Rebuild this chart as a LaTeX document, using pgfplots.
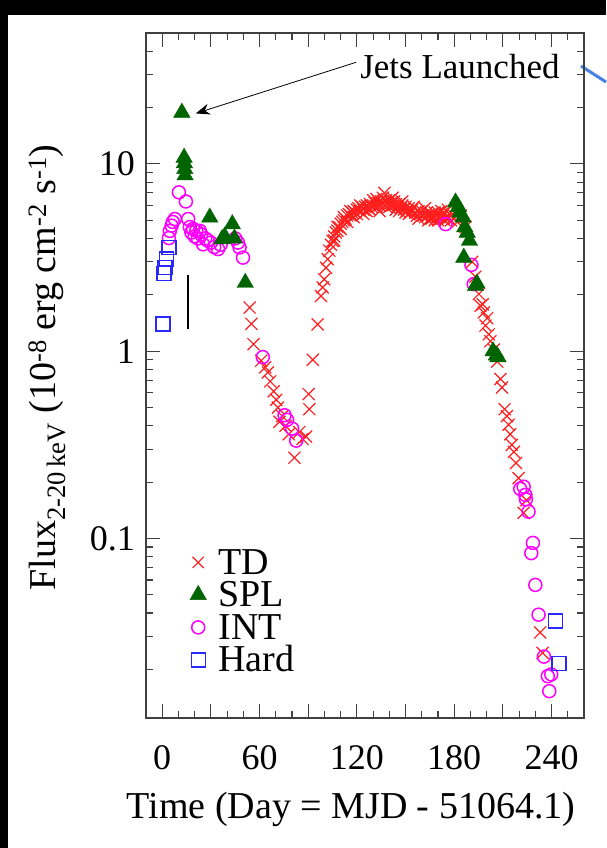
\documentclass[border=0pt]{standalone}
\usepackage{fontspec}
\setmainfont{Liberation Serif}
\usepackage{pgfplots}
\pgfplotsset{compat=1.18}
\usetikzlibrary{arrows.meta}
\definecolor{tdred}{RGB}{255,30,30}
\definecolor{splgreen}{RGB}{0,100,0}
\definecolor{intmag}{RGB}{255,0,255}
\definecolor{hardblue}{RGB}{40,40,255}
\definecolor{lineblue}{RGB}{70,130,230}
\begin{document}
\begin{tikzpicture}
\useasboundingbox (0pt,0pt) rectangle (606pt,848pt);
\fill[white] (0pt,0pt) rectangle (606pt,848pt);
\fill[black] (0pt,833pt) rectangle (606pt,848pt);
\fill[black] (0pt,0pt) rectangle (8pt,848pt);
\draw[lineblue, line width=3pt] (581pt,782pt) -- (606pt,766pt);
\begin{axis}[
  at={(146pt,130pt)}, anchor=south west,
  scale only axis, width=438pt, height=685pt,
  xmin=-10, xmax=260, ymode=log, ymin=0.011, ymax=50,
  xtick={0,30,...,240}, xticklabels={0,{},60,{},120,{},180,{},240},
  minor xtick={-10,0,...,260},
  ytick={0.01,0.1,1,10,100},
  minor ytick={0.02,0.03,0.04,0.05,0.06,0.07,0.08,0.09,0.2,0.3,0.4,0.5,0.6,0.7,0.8,0.9,2,3,4,5,6,7,8,9,20,30,40},
  log ticks with fixed point,
  /pgf/number format/assume math mode=true,
  tick align=inside,
  major tick length=14pt, minor tick length=7pt,
  every tick/.style={black!75, line width=1.1pt},
  axis line style={line width=1.5pt, black!75},
  ticklabel style={font=\fontsize{36}{36}\selectfont, inner sep=0pt},
  xticklabel style={yshift=-27pt},
  yticklabel style={xshift=-11pt},
  xlabel={Time (Day = MJD - 51064.1)},
  xlabel style={at={(axis description cs:0.468,-0.146)}, anchor=base, font=\fontsize{38}{38}\selectfont},
  ylabel={Flux\textsubscript{2-20\,keV} (10\textsuperscript{-8} erg cm\textsuperscript{-2} s\textsuperscript{-1})},
  ylabel style={at={(axis description cs:-0.2055,0.5117)}, anchor=base, font=\fontsize{38}{38}\selectfont},
  legend cell align=left,
  legend style={draw=none, fill=none, at={(axis description cs:0.1,0.245)}, anchor=north west,
    font=\fontsize{38}{38}\selectfont, row sep=8.5pt, inner sep=0pt,
    nodes={inner sep=0pt, text height=24pt, text depth=0pt},
    /tikz/every odd column/.style={column sep=12pt}},
]
% TD
\addplot[only marks, mark=x, mark size=8.5pt, tdred, line width=1.2pt, forget plot] coordinates {
(53.9,1.71)(55.0,1.40)(56.3,1.09)(61.0,0.89)(63.5,0.82)(65.1,0.77)(66.6,0.69)(68.7,0.61)
(70.3,0.55)(71.3,0.50)(72.3,0.42)(74.0,0.45)(76.0,0.40)(78.0,0.36)(81.5,0.27)(84.5,0.37)
(86.5,0.34)(88.7,0.35)(90.3,0.59)(90.7,0.49)(92.8,0.90)(95.8,1.39)(97.9,1.97)(98.9,2.19)
(99.9,2.42)(101,2.79)(102,3.10)(103,3.44)(104,3.7)(105,3.88)(106,4.1)(107,4.3)(108,4.4)
(109,4.6)(110,4.8)(111,4.9)(112,5.0)(113,5.1)(114,5.3)(115,5.4)(116,5.3)(117,5.5)(118,5.6)
(119,5.5)(120,5.7)(121,5.8)(122,5.6)(123,5.9)(124,5.7)(125,5.9)(126,6.0)(127,5.8)(128,6.1)
(129,5.9)(130,6.0)(131,6.2)(132,5.9)(133,6.2)(134,6.0)(135,6.3)(136,6.1)(137,7.0)(138,6.4)
(139,6.2)(140,6.4)(141,6.2)(142,6.0)(143,6.3)(144,6.1)(145,5.9)(146,6.1)(147,5.8)(148,6.0)
(149,5.7)(150,5.9)(151,5.6)(152,5.8)(153,5.5)(154,5.7)(156,5.5)(157,5.3)(158,5.6)(159,5.4)
(160,5.6)(161,5.3)(162,5.2)(163,5.5)(164,5.3)(165,5.1)(166,5.4)(167,5.2)(168,5.0)(169,5.3)
(170,5.5)(171,5.2)(172,5.6)(173,5.3)(174,5.0)(175,5.2)(176,5.1)(177,5.4)(178,5.0)
(106,3.9)(108,4.6)(110,4.5)(112,5.2)(114,4.9)(116,5.6)(118,5.2)(120,5.4)(122,6.0)(124,5.4)
(126,5.6)(128,5.7)(130,6.4)(132,6.5)(134,5.6)(136,6.6)(138,5.9)(140,5.9)(142,6.6)(144,5.7)
(146,5.6)(148,6.3)(150,5.5)(152,5.4)(155,5.9)(158,5.1)(160,5.3)(162,5.8)(164,5.0)(166,5.1)
(168,5.5)(170,5.0)(172,5.2)(174,5.5)(176,5.7)(178,5.3)(180,5.1)(182,4.9)(184,5.3)(187,4.6)
(191,3.0)(193,2.5)
(195.2,2.02)(196.2,1.75)(197.6,1.78)(198.2,1.61)(199.3,1.37)(200.3,1.50)(201.3,1.23)
(202.3,1.13)(204.5,1.02)(206.5,0.88)(208.5,0.71)(209.5,0.64)(211.1,0.49)(212.5,0.45)
(213.5,0.405)(214.5,0.36)(215.5,0.316)(216.8,0.29)(218.1,0.253)(219.7,0.21)(222.8,0.137)
(224.5,0.16)(233.0,0.0315)(234.5,0.0245)
};
% INT
\addplot[only marks, mark=o, mark size=6.5pt, intmag, line width=1.5pt, forget plot] coordinates {
(4.1,4.02)(4.7,4.39)(5.8,4.68)(6.5,4.9)(7.8,5.08)(10.3,7.05)(14.6,6.30)(16.0,5.08)(17.0,4.6)
(18.0,4.3)(19.0,4.5)(20.0,4.1)(21.0,4.4)(22.0,4.0)(23.2,4.39)(24.0,4.2)(25.2,3.72)(26.5,4.0)
(28.0,3.9)(30.0,3.8)(32.0,3.6)(34.4,3.51)(36.0,3.7)(45.0,4.0)(46.7,3.80)(47.7,3.58)(49.8,3.16)
(62.0,0.93)(75.4,0.455)(77.0,0.43)(80.1,0.386)(82.6,0.333)
(174.7,4.77)(190.6,2.89)(192.0,2.28)
(220.7,0.184)(222.8,0.189)(223.8,0.171)(224.2,0.162)(225.8,0.139)(227.5,0.0835)(228.5,0.0947)
(230.0,0.0565)(232.0,0.0392)(235.3,0.0234)(237.7,0.0184)(238.6,0.0153)(239.8,0.0188)
};
% SPL
\addplot[only marks, mark=triangle*, mark size=9.5pt, splgreen, forget plot] coordinates {
(12.1,18.8)(13.5,10.8)(13.7,10.1)(13.9,9.4)(14.1,8.7)(29.3,5.18)(36.9,3.97)(38.5,4.1)
(43.2,4.77)(44.5,4.0)(51.2,2.32)
(180.8,6.23)(182.5,5.9)(183.5,5.5)(185.5,5.18)(186.5,4.6)(188.0,4.30)(189.4,3.89)(185.9,3.16)
(193.1,2.23)(194.0,2.3)(203.9,1.0)(206.0,0.95)(207.0,0.93)
};
% Hard
\addplot[only marks, mark=square, mark size=7pt, hardblue, line width=1.4pt, forget plot] coordinates {
(0.6,1.40)(1.2,2.60)(1.8,2.80)(2.7,3.10)(4.1,3.58)(242.6,0.0362)(244.7,0.0215)
};
\addlegendimage{only marks, mark=x, mark size=8pt, tdred, line width=1.2pt}
\addlegendentry{TD}
\addlegendimage{only marks, mark=triangle*, mark size=9.5pt, splgreen}
\addlegendentry{SPL}
\addlegendimage{only marks, mark=o, mark size=6.5pt, intmag, line width=1.5pt}
\addlegendentry{INT}
\addlegendimage{only marks, mark=square, mark size=7pt, hardblue, line width=1.4pt}
\addlegendentry{Hard}
\draw[black, line width=2pt] (axis cs:15.6,1.31) -- (axis cs:15.6,2.56);
\draw[-{Stealth[length=14pt,width=11pt]}, line width=0.8pt] (axis cs:119.6,34.9) -- (axis cs:20.7,18.6);
\node[anchor=west, inner sep=0pt, font=\fontsize{35}{35}\selectfont] at (axis cs:122,33.2) {Jets Launched};
\end{axis}
\end{tikzpicture}
\end{document}
